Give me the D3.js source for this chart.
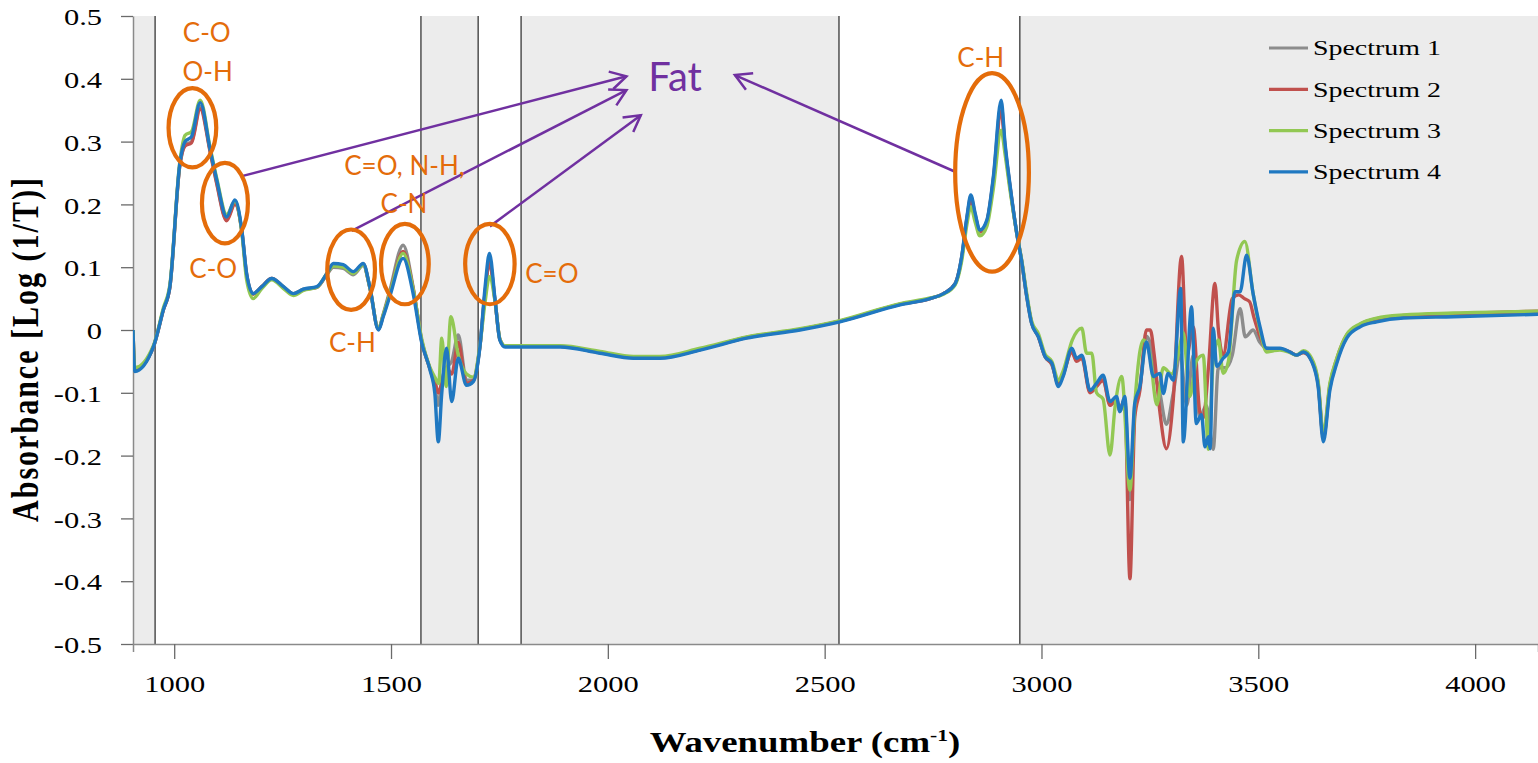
<!DOCTYPE html>
<html>
<head>
<meta charset="utf-8">
<script src="https://cdn.jsdelivr.net/npm/d3@7"></script>
<style>
  body { margin: 0; background: #fff; }
  svg { display: block; }
</style>
</head>
<body>
<div id="chart"></div>
<script>
// ---- data: [wavenumber, absorbance] ----
const spectrum1 = [
  [905,0.0],[909,-0.064],[952,-0.027],[975,0.032],[990,0.068],[1013,0.262],[1025,0.295],[1040,0.300],[1060,0.356],
  [1083,0.285],[1098,0.235],[1121,0.176],[1140,0.202],[1156,0.158],[1167,0.089],[1182,0.058],[1202,0.069],[1225,0.082],
  [1252,0.069],[1275,0.058],[1298,0.065],[1329,0.068],[1352,0.088],[1367,0.100],[1390,0.098],[1413,0.088],[1436,0.103],
  [1451,0.068],[1471,0.002],[1482,0.025],[1497,0.062],[1528,0.135],[1551,0.068],[1571,-0.018],[1590,-0.062],[1601,-0.090],
  [1609,-0.120],[1617,-0.080],[1628,-0.060],[1640,-0.050],[1655,-0.008],[1674,-0.080],[1690,-0.080],[1705,-0.026],
  [1717,0.060],[1727,0.110],[1740,0.046],[1751,-0.015],[1763,-0.026],[1890,-0.026],[1982,-0.036],[2059,-0.044],
  [2120,-0.044],[2213,-0.031],[2320,-0.012],[2443,0.001],[2535,0.014],[2674,0.041],[2743,0.050],[2774,0.058],
  [2801,0.074],[2816,0.116],[2828,0.178],[2837,0.212],[2847,0.184],[2858,0.157],[2874,0.173],[2889,0.241],[2907,0.358],
  [2916,0.293],[2928,0.226],[2943,0.154],[2954,0.111],[2966,0.054],[2977,0.012],[2993,-0.011],[3008,-0.042],
  [3024,-0.055],[3039,-0.087],[3050,-0.072],[3070,-0.033],[3081,-0.048],[3093,-0.043],[3112,-0.098],[3127,-0.088],
  [3142,-0.078],[3158,-0.118],[3173,-0.115],[3181,-0.130],[3192,-0.110],[3204,-0.270],[3215,-0.130],[3227,-0.090],
  [3242,-0.010],[3250,-0.020],[3258,-0.060],[3273,-0.100],[3288,-0.150],[3304,-0.100],[3320,-0.040],[3335,-0.120],
  [3350,-0.040],[3365,-0.140],[3380,-0.120],[3396,-0.190],[3408,-0.060],[3425,-0.060],[3440,-0.040],[3458,0.034],
  [3470,-0.011],[3488,0.0],[3504,-0.020],[3519,-0.029],[3535,-0.030],[3550,-0.030],[3573,-0.035],[3588,-0.040],
  [3604,-0.036],[3623,-0.049],[3638,-0.087],[3650,-0.172],[3665,-0.092],[3681,-0.050],[3704,-0.011],[3735,0.007],
  [3773,0.016],[3835,0.021],[3950,0.024],[4145,0.027]
];

const spectrum2 = [
  [905,0.0],[909,-0.064],[952,-0.027],[975,0.032],[990,0.068],[1013,0.262],[1025,0.293],[1040,0.298],[1060,0.352],
  [1083,0.283],[1098,0.233],[1121,0.174],[1140,0.200],[1156,0.157],[1167,0.088],[1182,0.057],[1202,0.069],[1225,0.082],
  [1252,0.068],[1275,0.057],[1298,0.064],[1329,0.068],[1352,0.089],[1367,0.103],[1390,0.101],[1413,0.091],[1436,0.105],
  [1451,0.068],[1471,0.001],[1482,0.023],[1497,0.058],[1528,0.125],[1551,0.066],[1571,-0.018],[1590,-0.062],[1601,-0.080],
  [1609,-0.100],[1617,-0.085],[1628,-0.060],[1640,-0.070],[1655,-0.020],[1674,-0.085],[1690,-0.080],[1705,-0.026],
  [1717,0.060],[1727,0.108],[1740,0.046],[1751,-0.015],[1763,-0.026],[1890,-0.026],[1982,-0.036],[2059,-0.044],
  [2120,-0.044],[2213,-0.031],[2320,-0.012],[2443,0.001],[2535,0.014],[2674,0.041],[2743,0.050],[2774,0.058],
  [2801,0.074],[2816,0.115],[2828,0.176],[2837,0.208],[2847,0.182],[2858,0.156],[2874,0.172],[2889,0.238],[2907,0.348],
  [2916,0.290],[2928,0.225],[2943,0.154],[2954,0.111],[2966,0.054],[2977,0.012],[2993,-0.011],[3008,-0.042],
  [3024,-0.055],[3039,-0.085],[3050,-0.070],[3070,-0.035],[3081,-0.050],[3093,-0.045],[3112,-0.100],[3127,-0.090],
  [3142,-0.080],[3158,-0.120],[3173,-0.110],[3181,-0.125],[3192,-0.110],[3204,-0.396],[3215,-0.140],[3227,-0.096],
  [3242,0.0],[3251,0.0],[3260,-0.040],[3273,-0.130],[3288,-0.189],[3304,-0.110],[3323,0.117],[3335,-0.040],
  [3350,0.005],[3365,-0.130],[3373,-0.140],[3385,-0.060],[3400,0.074],[3408,0.0],[3419,-0.040],[3440,0.050],
  [3455,0.056],[3468,0.050],[3480,0.045],[3490,0.020],[3504,-0.010],[3519,-0.030],[3535,-0.030],[3550,-0.030],
  [3573,-0.035],[3588,-0.040],[3604,-0.036],[3623,-0.048],[3638,-0.085],[3650,-0.170],[3665,-0.088],[3681,-0.046],
  [3704,-0.008],[3735,0.009],[3773,0.018],[3835,0.023],[3950,0.026],[4145,0.030]
];

const spectrum3 = [
  [905,0.0],[909,-0.060],[952,-0.025],[975,0.035],[990,0.072],[1013,0.268],[1025,0.310],[1040,0.316],[1060,0.366],
  [1083,0.290],[1098,0.242],[1121,0.184],[1140,0.205],[1156,0.155],[1167,0.080],[1182,0.050],[1202,0.066],[1225,0.080],
  [1252,0.066],[1275,0.055],[1298,0.063],[1329,0.068],[1352,0.090],[1367,0.102],[1390,0.100],[1413,0.090],[1436,0.104],
  [1451,0.068],[1471,0.002],[1482,0.024],[1497,0.057],[1528,0.122],[1551,0.065],[1571,-0.015],[1590,-0.060],[1601,-0.075],
  [1610,-0.085],[1617,-0.013],[1627,-0.090],[1638,0.021],[1655,-0.040],[1674,-0.070],[1690,-0.075],[1705,-0.025],
  [1717,0.045],[1727,0.085],[1740,0.045],[1751,-0.014],[1763,-0.025],[1890,-0.025],[1982,-0.034],[2059,-0.042],
  [2120,-0.042],[2213,-0.029],[2320,-0.011],[2443,0.002],[2535,0.015],[2674,0.042],[2743,0.051],[2774,0.057],
  [2801,0.072],[2816,0.110],[2828,0.168],[2837,0.196],[2847,0.172],[2858,0.150],[2874,0.165],[2889,0.225],[2907,0.318],
  [2916,0.280],[2928,0.220],[2943,0.154],[2954,0.113],[2966,0.058],[2977,0.015],[2993,-0.006],[3008,-0.038],
  [3024,-0.050],[3039,-0.080],[3050,-0.065],[3071,-0.016],[3093,0.003],[3104,-0.037],[3116,-0.037],[3127,-0.100],
  [3142,-0.110],[3158,-0.199],[3170,-0.120],[3185,-0.074],[3204,-0.255],[3215,-0.120],[3235,-0.016],[3250,-0.040],
  [3266,-0.119],[3281,-0.060],[3300,-0.070],[3315,-0.040],[3327,-0.004],[3342,-0.106],[3357,-0.050],[3373,-0.040],
  [3385,-0.190],[3396,-0.050],[3408,-0.016],[3419,-0.069],[3431,-0.050],[3450,0.111],[3469,0.141],[3488,0.058],
  [3504,0.0],[3519,-0.035],[3535,-0.033],[3550,-0.032],[3573,-0.036],[3588,-0.040],[3604,-0.033],[3623,-0.045],
  [3638,-0.082],[3650,-0.165],[3665,-0.085],[3681,-0.045],[3704,-0.007],[3735,0.010],[3773,0.019],[3835,0.024],
  [3950,0.027],[4145,0.030]
];

const spectrum4 = [
  [905,0.0],[909,-0.066],[952,-0.027],[975,0.032],[990,0.069],[1013,0.265],[1025,0.300],[1040,0.308],[1060,0.362],
  [1083,0.287],[1098,0.239],[1121,0.180],[1140,0.207],[1156,0.159],[1167,0.090],[1182,0.058],[1202,0.069],[1225,0.082],
  [1252,0.069],[1275,0.058],[1298,0.065],[1329,0.069],[1352,0.090],[1367,0.106],[1390,0.104],[1413,0.093],[1436,0.106],
  [1451,0.069],[1471,0.0],[1482,0.021],[1497,0.053],[1528,0.114],[1551,0.058],[1571,-0.021],[1590,-0.064],[1601,-0.101],
  [1609,-0.178],[1617,-0.101],[1628,-0.029],[1640,-0.114],[1655,-0.045],[1674,-0.088],[1690,-0.082],[1705,-0.027],
  [1717,0.069],[1727,0.122],[1740,0.048],[1751,-0.016],[1763,-0.027],[1890,-0.027],[1982,-0.037],[2059,-0.045],
  [2120,-0.045],[2213,-0.032],[2320,-0.013],[2443,0.0],[2535,0.013],[2674,0.040],[2743,0.050],[2774,0.058],
  [2801,0.074],[2816,0.117],[2828,0.180],[2837,0.215],[2847,0.186],[2858,0.159],[2874,0.175],[2889,0.244],[2907,0.366],
  [2916,0.297],[2928,0.228],[2943,0.154],[2954,0.111],[2966,0.053],[2977,0.011],[2993,-0.011],[3008,-0.042],
  [3024,-0.053],[3039,-0.090],[3050,-0.074],[3070,-0.029],[3081,-0.045],[3093,-0.040],[3112,-0.096],[3127,-0.085],
  [3142,-0.072],[3158,-0.114],[3173,-0.106],[3181,-0.130],[3192,-0.106],[3204,-0.236],[3215,-0.117],[3227,-0.090],
  [3242,-0.019],[3258,-0.074],[3273,-0.069],[3281,-0.101],[3292,-0.069],[3304,-0.080],[3321,0.066],[3327,-0.178],
  [3346,0.037],[3357,-0.149],[3369,-0.135],[3377,-0.186],[3385,-0.170],[3389,-0.189],[3396,0.003],[3404,-0.058],
  [3419,-0.045],[3431,-0.035],[3446,0.061],[3458,0.061],[3473,0.119],[3488,0.058],[3504,0.005],[3519,-0.029],
  [3535,-0.029],[3550,-0.029],[3573,-0.035],[3588,-0.040],[3604,-0.035],[3623,-0.050],[3638,-0.090],[3650,-0.178],
  [3665,-0.096],[3681,-0.053],[3704,-0.013],[3735,0.005],[3773,0.013],[3835,0.019],[3950,0.021],[4145,0.025]
];

const seriesNames = ['Spectrum 1', 'Spectrum 2', 'Spectrum 3', 'Spectrum 4'];
const seriesData = [spectrum1, spectrum2, spectrum3, spectrum4];
const seriesColors = ['#8c8c8c', '#c0504d', '#92c853', '#1f78c1'];

const xTicks = [1000, 1500, 2000, 2500, 3000, 3500, 4000];
const yTicks = [-0.5, -0.4, -0.3, -0.2, -0.1, 0, 0.1, 0.2, 0.3, 0.4, 0.5];

// shaded wavenumber windows and their divider lines
const shadedRanges = [[905, 956], [1569, 1701], [1800, 2533], [2950, 4145]];
const dividers = [956, 1569, 1701, 1800, 2533, 2950];

// annotations (data coordinates)
const ellipses = [
  { wn: 1042, abs: 0.322, dw: 55, da: 0.063 },
  { wn: 1117, abs: 0.202, dw: 53, da: 0.064 },
  { wn: 1408, abs: 0.096, dw: 55, da: 0.064 },
  { wn: 1532, abs: 0.105, dw: 55, da: 0.064 },
  { wn: 1728, abs: 0.105, dw: 57, da: 0.064 },
  { wn: 2886, abs: 0.251, dw: 85, da: 0.158 }
];
const bondLabels = [
  { text: 'C-O', wn: 1075, abs: 0.459 },
  { text: 'O-H', wn: 1077, abs: 0.396 },
  { text: 'C-O', wn: 1090, abs: 0.083 },
  { text: 'C=O, N-H,', wn: 1531, abs: 0.247 },
  { text: 'C-N', wn: 1530, abs: 0.186 },
  { text: 'C-H', wn: 1411, abs: -0.035 },
  { text: 'C=O', wn: 1871, abs: 0.075 },
  { text: 'C-H', wn: 2860, abs: 0.419 }
];
const fatLabel = { text: 'Fat', wn: 2093, abs: 0.381 };
const arrows = [
  { from: [1156, 0.245], to: [2043, 0.404] },
  { from: [1409, 0.158], to: [2043, 0.382] },
  { from: [1728, 0.165], to: [2076, 0.342] },
  { from: [2801, 0.252], to: [2293, 0.406] }
];

// ---- chart ----
const W = 1538, H = 763;
const margin = { top: 16, right: 0, bottom: 119, left: 133 };
const width = W - margin.left - margin.right;
const height = H - margin.top - margin.bottom;
const stretch = 1.27; // the original picture is stretched sideways
const serif = '"Liberation Serif", "Times New Roman", serif';
const sans = 'Lato, "Open Sans", sans-serif';
const orange = '#e46c0a';
const purple = '#7030a0';

const svg = d3.select('#chart').append('svg')
  .attr('width', W)
  .attr('height', H);

svg.append('defs').append('clipPath').attr('id', 'plot-clip')
  .append('rect').attr('width', width).attr('height', height);

const marker = svg.select('defs').append('marker')
  .attr('id', 'open-arrow')
  .attr('markerUnits', 'userSpaceOnUse')
  .attr('viewBox', '-20 -12 24 24')
  .attr('refX', 0).attr('refY', 0)
  .attr('markerWidth', 24).attr('markerHeight', 24)
  .attr('orient', 'auto');
marker.append('path')
  .attr('d', 'M-16,-9 L0,0 L-16,9')
  .attr('fill', 'none')
  .attr('stroke', purple)
  .attr('stroke-width', 2.5);

const g = svg.append('g')
  .attr('transform', `translate(${margin.left},${margin.top})`);

const x = d3.scaleLinear().domain([905, 4145]).range([0, width]);
const y = d3.scaleLinear().domain([-0.5, 0.5]).range([height, 0]);

// shaded bands
g.selectAll('.band')
  .data(shadedRanges)
  .enter()
  .append('rect')
  .attr('class', 'band')
  .attr('x', d => x(d[0]))
  .attr('y', 0)
  .attr('width', d => x(d[1]) - x(d[0]))
  .attr('height', height)
  .attr('fill', '#ececec');

g.selectAll('.divider')
  .data(dividers)
  .enter()
  .append('line')
  .attr('class', 'divider')
  .attr('x1', d => x(d)).attr('x2', d => x(d))
  .attr('y1', 0).attr('y2', height)
  .attr('stroke', '#5a5a5a')
  .attr('stroke-width', 1.6);

// axes
const yAxis = g.append('g')
  .call(d3.axisLeft(y).tickValues(yTicks).tickSize(12).tickSizeOuter(0)
    .tickFormat(d => d === 0 ? '0' : d.toFixed(1)));
const xAxis = g.append('g')
  .attr('transform', `translate(0,${height})`)
  .call(d3.axisBottom(x).tickValues(xTicks).tickSize(15).tickSizeOuter(8)
    .tickFormat(d3.format('d')));

[yAxis, xAxis].forEach(ax => {
  ax.attr('font-family', null).attr('font-size', null);
  ax.select('.domain').attr('stroke', '#8a8a8a').attr('stroke-width', 1.5);
  ax.selectAll('.tick line').attr('stroke', '#6a6a6a').attr('stroke-width', 1.3);
  ax.selectAll('.tick text')
    .style('font-family', serif)
    .style('font-size', '24px')
    .attr('fill', '#000');
});
yAxis.selectAll('.tick text')
  .attr('x', 0).attr('dy', '0.36em')
  .attr('transform', `translate(-31,0) scale(${stretch},1)`);
xAxis.selectAll('.tick text')
  .attr('y', 48).attr('dy', 0)
  .attr('transform', `scale(${stretch},1)`);

// spectra
const line = d3.line()
  .x(d => x(d[0]))
  .y(d => y(d[1]))
  .curve(d3.curveMonotoneX);

g.append('g')
  .attr('clip-path', 'url(#plot-clip)')
  .selectAll('path')
  .data(seriesData)
  .enter()
  .append('path')
  .attr('d', line)
  .attr('fill', 'none')
  .attr('stroke', (d, i) => seriesColors[i])
  .attr('stroke-width', 3.4)
  .attr('stroke-linejoin', 'round');

// legend
const legend = svg.selectAll('.legend')
  .data(seriesNames)
  .enter()
  .append('g')
  .attr('class', 'legend')
  .attr('transform', (d, i) => `translate(1269,${48 + i * 41.3})`);

legend.append('line')
  .attr('x1', 0).attr('x2', 39)
  .attr('stroke', (d, i) => seriesColors[i])
  .attr('stroke-width', 3.2);

legend.append('text')
  .attr('transform', `translate(44,0) scale(${stretch},1)`)
  .attr('dy', '0.33em')
  .style('font-family', serif)
  .style('font-size', '22px')
  .text(d => d);

// axis titles
svg.append('text')
  .attr('transform', `translate(38,350) scale(${stretch},1) rotate(-90)`)
  .attr('text-anchor', 'middle')
  .style('font-family', serif)
  .style('font-weight', 'bold')
  .style('font-size', '30px')
  .attr('textLength', 344)
  .attr('lengthAdjust', 'spacing')
  .text('Absorbance [Log (1/T)]');

const xTitle = svg.append('text')
  .attr('transform', `translate(805,752) scale(${stretch},1)`)
  .attr('text-anchor', 'middle')
  .style('font-family', serif)
  .style('font-weight', 'bold')
  .style('font-size', '29px');
xTitle.append('tspan').text('Wavenumber  (cm');
xTitle.append('tspan').style('font-size', '17px').attr('dy', -11).text('-1');
xTitle.append('tspan').attr('dy', 11).text(')');

// annotations
const ann = g.append('g');

ann.selectAll('.arrow')
  .data(arrows)
  .enter()
  .append('line')
  .attr('x1', d => x(d.from[0])).attr('y1', d => y(d.from[1]))
  .attr('x2', d => x(d.to[0])).attr('y2', d => y(d.to[1]))
  .attr('stroke', purple)
  .attr('stroke-width', 2.5)
  .attr('marker-end', 'url(#open-arrow)');

ann.selectAll('ellipse')
  .data(ellipses)
  .enter()
  .append('ellipse')
  .attr('cx', d => x(d.wn))
  .attr('cy', d => y(d.abs))
  .attr('rx', d => x(d.wn + d.dw) - x(d.wn))
  .attr('ry', d => y(d.abs - d.da) - y(d.abs))
  .attr('fill', 'none')
  .attr('stroke', orange)
  .attr('stroke-width', 4.2);

ann.selectAll('.bond')
  .data(bondLabels)
  .enter()
  .append('text')
  .attr('x', d => x(d.wn))
  .attr('y', d => y(d.abs))
  .attr('text-anchor', 'middle')
  .style('font-family', sans)
  .style('font-size', '26px')
  .attr('fill', orange)
  .text(d => d.text);

ann.append('text')
  .attr('x', x(fatLabel.wn))
  .attr('y', y(fatLabel.abs))
  .style('font-family', sans)
  .style('font-size', '40px')
  .attr('fill', purple)
  .text(fatLabel.text);
</script>
</body>
</html>
